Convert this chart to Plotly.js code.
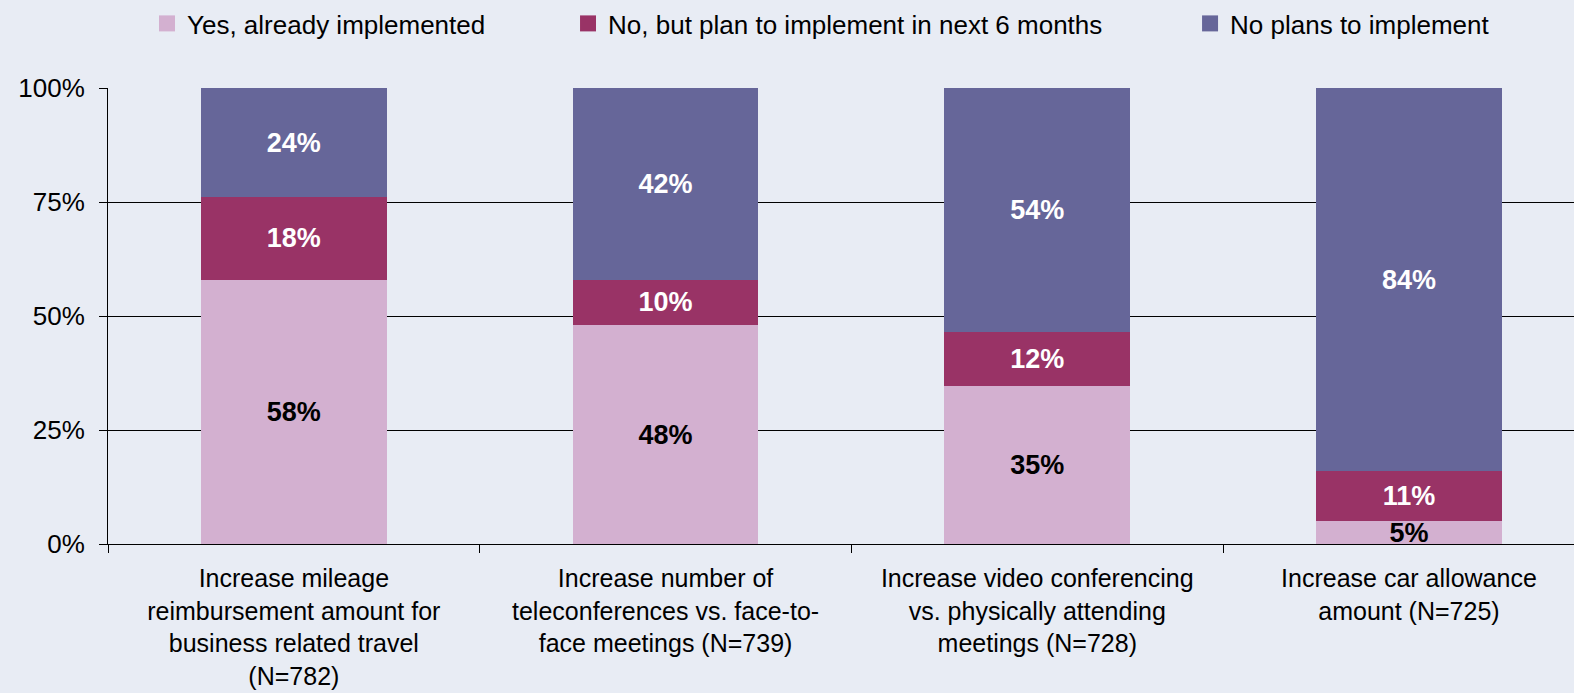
<!DOCTYPE html>
<html>
<head>
<meta charset="utf-8">
<script src="https://cdn.plot.ly/plotly-3.0.1.min.js"></script>
<style>html,body{margin:0;padding:0;background:#e8ecf4;}#chart{width:1574px;height:693px;}</style>
</head>
<body>
<div id="chart"></div>
<script>
const categories = [
  "Increase mileage<br>reimbursement amount for<br>business related travel<br>(N=782)",
  "Increase number of<br>teleconferences vs. face-to-<br>face meetings (N=739)",
  "Increase video conferencing<br>vs. physically attending<br>meetings (N=728)",
  "Increase car allowance<br>amount (N=725)"
];
const seriesNames = ["Yes, already implemented", "No, but plan to implement in next 6 months", "No plans to implement"];
const yesImplemented = [58, 48, 35, 5];
const planNext6Months = [18, 10, 12, 11];
const noPlans = [24, 42, 54, 84];
const yTickVals = [0, 25, 50, 75, 100];
const yTickText = ["0%", "25%", "50%", "75%", "100%"];

const colors = ["#d3b0d0", "#993366", "#666699"];
const labelColors = ["#000000", "#ffffff", "#ffffff"];
const allSeries = [yesImplemented, planNext6Months, noPlans];
const legendIds = ["legend", "legend2", "legend3"];
const legendX = [0.0266, 0.3138, 0.7381];

const barTraces = allSeries.map((vals, i) => ({
  type: "bar",
  name: seriesNames[i],
  x: categories,
  y: vals,
  text: vals.map(v => v + "%"),
  textposition: "inside",
  insidetextanchor: "middle",
  textangle: 0,
  constraintext: "none",
  textfont: {family: "Liberation Sans, Arial, sans-serif", size: 27, color: labelColors[i], weight: "bold"},
  marker: {color: colors[i], line: {width: 0}},
  showlegend: false,
  hoverinfo: "skip"
}));

const legendTraces = seriesNames.map((nm, i) => ({
  type: "scatter",
  mode: "markers",
  name: nm,
  x: [null], y: [null],
  marker: {symbol: "square", size: 18, color: colors[i]},
  legend: legendIds[i],
  showlegend: true,
  hoverinfo: "skip"
}));

const legendBase = (i) => ({
  orientation: "h", x: legendX[i], xanchor: "left", y: 1.142, yanchor: "middle",
  font: {size: 26, color: "#000"}, bgcolor: "rgba(0,0,0,0)",
  itemwidth: 30, itemsizing: "trace", itemclick: false
});

const layout = {
  width: 1574, height: 693,
  paper_bgcolor: "#e8ecf4",
  plot_bgcolor: "#e8ecf4",
  barmode: "stack",
  barnorm: "percent",
  bargap: 0.5,
  showlegend: true,
  uniformtext: {mode: "show", minsize: 27},
  margin: {l: 108, r: 0, t: 86, b: 149, pad: 0},
  font: {family: "Liberation Sans, Arial, sans-serif", color: "#000000", size: 26},
  legend: legendBase(0),
  legend2: legendBase(1),
  legend3: legendBase(2),
  xaxis: {
    type: "category",
    range: [-0.5, 3.444],
    tickson: "boundaries",
    ticks: "outside", ticklen: 8, tickcolor: "#000", tickwidth: 1,
    showline: true, linecolor: "#000", linewidth: 1,
    showgrid: false, zeroline: false,
    tickfont: {size: 25, color: "#000"},
    ticklabelstandoff: 12,
    fixedrange: true
  },
  yaxis: {
    range: [0, 100],
    tickvals: yTickVals, ticktext: yTickText,
    ticks: "outside", ticklen: 8, tickcolor: "#000", tickwidth: 1,
    showline: true, linecolor: "#000", linewidth: 1,
    showgrid: true, gridcolor: "#000", gridwidth: 1,
    zeroline: false,
    tickfont: {size: 26, color: "#000"},
    ticklabelstandoff: 9,
    fixedrange: true
  }
};

Plotly.newPlot("chart", barTraces.concat(legendTraces), layout, {displayModeBar: false, staticPlot: true});
</script>
</body>
</html>
